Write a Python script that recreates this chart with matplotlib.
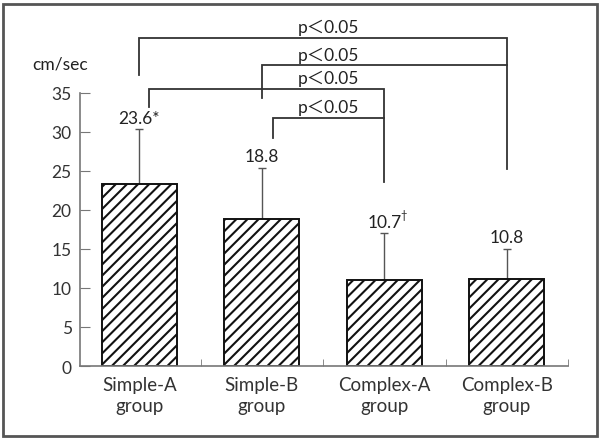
import matplotlib
matplotlib.use("Agg")
import matplotlib.pyplot as plt
from matplotlib.patches import Rectangle

plt.rcParams['font.family'] = ['Lato', 'Noto Sans CJK JP', 'DejaVu Sans']
plt.rcParams['hatch.linewidth'] = 1.5

# --- DATA ---
groups = ['Simple-A\ngroup', 'Simple-B\ngroup', 'Complex-A\ngroup', 'Complex-B\ngroup']
means = [23.3, 18.8, 11.0, 11.1]
sd_upper = [7.0, 6.6, 6.0, 3.9]
value_labels = ['23.6*', '18.8', '10.7', '10.8']
value_marks = ['', '', '\u2020', '']

# significance brackets: (left x, right x, bar height, left leg end, right leg end)
brackets = [
    (0.0, 3.0, 42.0, 37.3, 25.2),
    (1.0, 3.0, 38.5, 34.3, 38.5),
    (0.08, 2.0, 35.5, 33.2, 23.6),
    (1.09, 2.0, 31.8, 29.2, 31.8),
]
p_text = 'p\uff1c0.05'

fig = plt.figure(figsize=(5.99, 4.39), dpi=100)
ax = fig.add_axes([0.1336, 0.164, 0.8148, 0.6226])

x = range(len(groups))
ax.bar(x, means, width=0.61, color='white', edgecolor='#111111',
       linewidth=1.4, hatch='///', zorder=2)
ax.errorbar(x, means, yerr=[[0] * len(means), sd_upper], fmt='none',
            ecolor='#555555', elinewidth=1.0, capsize=3, capthick=1.0, zorder=1)

# value labels above the error bars (dagger as a small raised mark)
for i, (m, e, lab, mark) in enumerate(zip(means, sd_upper, value_labels, value_marks)):
    ax.text(i, m + e + 1.5, lab, ha='center', va='center', fontsize=12.5, color='#222222')
    if mark:
        ax.annotate(mark, xy=(i, m + e + 1.5), xytext=(14, 5), textcoords='offset points',
                    ha='center', va='center', fontsize=8, color='#222222')

for x0, x1, h, l_end, r_end in brackets:
    ax.plot([x0, x0, x1, x1], [l_end, h, h, r_end], color='#333333',
            linewidth=1.3, clip_on=False, solid_joinstyle='miter')
    ax.text(1.54, h + 1.4, p_text, ha='center', va='center', fontsize=12.5,
            color='#222222', clip_on=False)

ax.set_xlim(-0.484, 3.5)
ax.set_ylim(0, 35)
ax.set_yticks(range(0, 36, 5))
ax.set_xticks(list(x))
ax.set_xticklabels(groups, fontsize=13.5, color='#333333', linespacing=1.3)
ax.set_xticks([0.5, 1.5, 2.5, 3.5], minor=True)
ax.tick_params(axis='x', which='major', length=0, pad=7)
ax.tick_params(axis='x', which='minor', direction='in', length=5, color='#777777')
ax.tick_params(axis='y', direction='in', length=7, color='#777777',
               labelsize=12.5, labelcolor='#333333', pad=6)

for side in ['top', 'right']:
    ax.spines[side].set_visible(False)
for side in ['left', 'bottom']:
    ax.spines[side].set_color('#777777')
    ax.spines[side].set_linewidth(1.2)

fig.text(60 / 599, 1 - 65 / 439, 'cm/sec', ha='center', va='center', fontsize=12.5, color='#222222')

# outer frame
fig.patches.append(Rectangle((3 / 599, 2 / 439), 594 / 599, 432 / 439,
                             transform=fig.transFigure, fill=False,
                             edgecolor='#555555', linewidth=2))

plt.savefig('out.png', dpi=100)
